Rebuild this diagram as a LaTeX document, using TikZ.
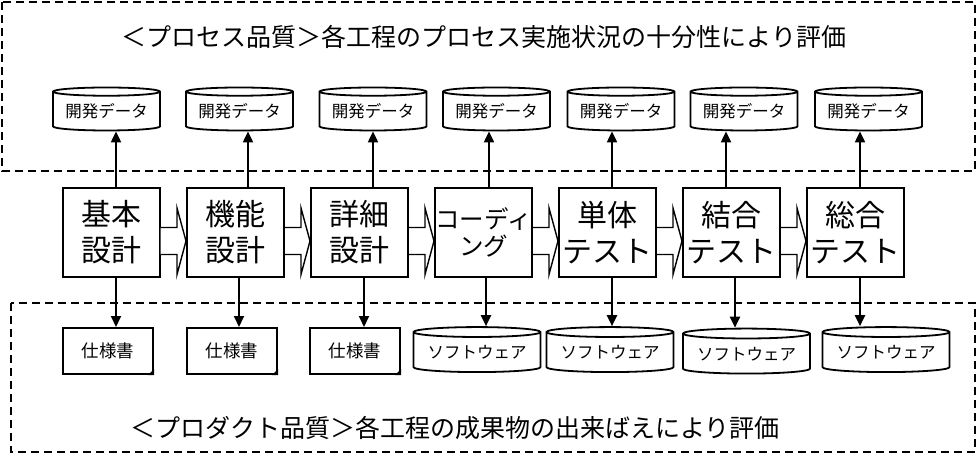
\documentclass[tikz,border=0pt]{standalone}
\usepackage{fontspec}
\setmainfont{Noto Sans CJK JP}
\usetikzlibrary{shapes.geometric,arrows.meta,calc}

\begin{document}
\begin{tikzpicture}[x=1pt,y=-1pt,
    phase/.style={draw,line width=2pt,minimum width=97pt,minimum height=89pt,inner sep=0pt,align=center,font=\fontsize{30}{36}\selectfont},
    store/.style={draw,line width=1.8pt,cylinder,shape border rotate=90,aspect=0.1,inner sep=0pt,font=\fontsize{16.5}{18}\selectfont},
    spec/.style={draw,line width=2pt,minimum width=90pt,minimum height=46pt,inner sep=0pt,font=\fontsize{17.5}{20}\selectfont},
    flow/.style={line width=2pt,-{Triangle[width=10pt,length=11pt]}},
    fat/.style={draw,line width=1.4pt,fill=white},
    zone/.style={draw,line width=2pt,dash pattern=on 8pt off 5pt},
    title/.style={font=\fontsize{25}{28}\selectfont}]
    \useasboundingbox (0,0) rectangle (977,461);
    % quality zones
    \draw[zone] (2,2) rectangle (975,171);
    \draw[zone] (11,303) rectangle (975,452);
    \node[title] (procq) at (484,37) {＜プロセス品質＞各工程のプロセス実施状況の十分性により評価};
    \node[title] (prodq) at (455,428) {＜プロダクト品質＞各工程の成果物の出来ばえにより評価};
    % phases
    \foreach \i/\x/\t in {1/111/{基本\\設計},2/235.5/{機能\\設計},3/359.5/{詳細\\設計},5/607.5/{単体\\テスト},6/731.5/{結合\\テスト},7/855.5/{総合\\テスト}}
    \node[phase] (ph\i) at (\x,232.5) {\t};
    \node[phase,font=\fontsize{24.5}{27}\selectfont] (ph4) at (483.5,232.5) {コーディ\\ング};
    \foreach \i/\j in {1/2,2/3,3/4,4/5,5/6,6/7}
    \draw[fat] ($(ph\i.east)+(0,-5)$) -- ($(ph\j.west)+(-9,-5)$) -- ($(ph\j.west)+(-9,-24.5)$) -- ($(ph\j.west)+(0,8.5)$)
        -- ($(ph\j.west)+(-9,42)$) -- ($(ph\j.west)+(-9,22)$) -- ($(ph\i.east)+(0,22)$);
    % development data
    \foreach \i/\x in {1/106.5,2/239.5,3/373,4/496.5,5/621,6/744,7/868.5}
    \node[store,minimum width=107pt,minimum height=43pt] (dev\i) at (\x,111.5) {開発データ};
    \foreach \i/\dx in {1/5,2/12.5,3/13.5,4/5.5,5/4.5,6/-5.5,7/4.5}
    \draw[flow] ([xshift=\dx pt]ph\i.north) -- ([xshift=\dx pt]ph\i.north |- dev\i.south);
    % products
    \foreach \i/\x in {1/108,2/232,3/355}
    \node[spec] (out\i) at (\x,351) {仕様書};
    \foreach \i/\x/\y in {4/477/352.5,5/610/352.5,6/746.5/354,7/886/352.5}
    \node[store,minimum width=127pt,minimum height=45pt] (out\i) at (\x,\y) {ソフトウェア};
    \foreach \i in {1,2,3}
    \fill (out\i.south east) -- ([xshift=-6pt]out\i.south east) -- ([yshift=6pt]out\i.south east) -- cycle;
    \foreach \i/\dx in {1/5,2/3.5,3/4.5,4/2.5,5/4.5,6/3.5,7/4.5}
    \draw[flow] ([xshift=\dx pt]ph\i.south) -- ([xshift=\dx pt]ph\i.south |- out\i.north);
\end{tikzpicture}
\end{document}
